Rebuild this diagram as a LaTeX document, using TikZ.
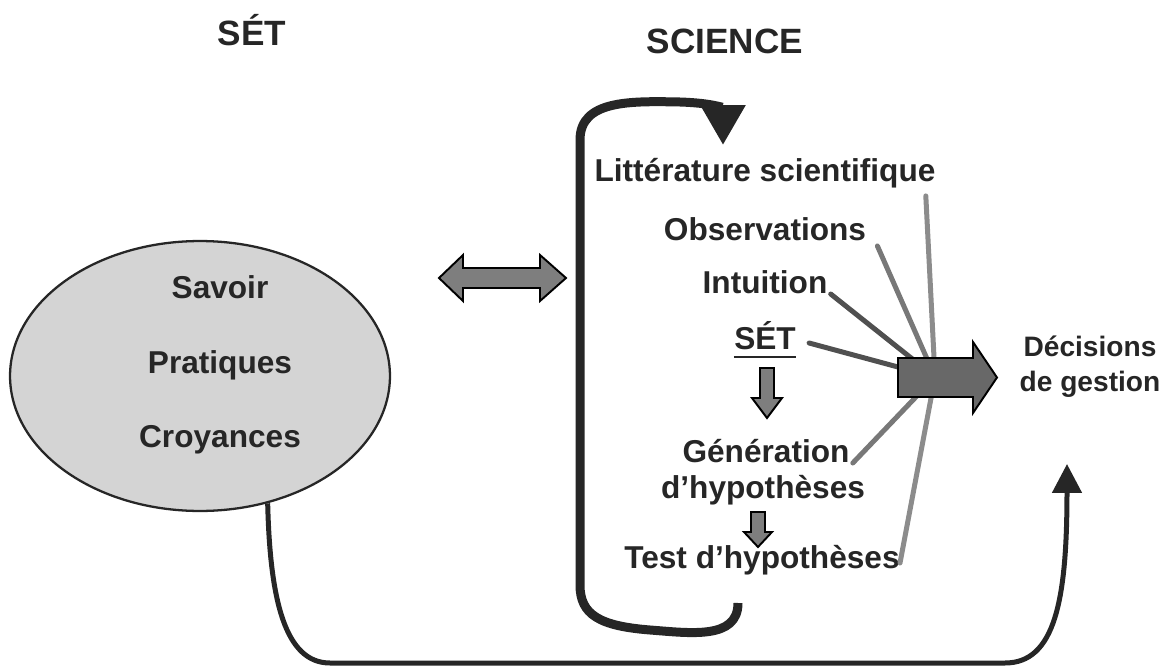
\documentclass[tikz,border=0pt]{standalone}
\usepackage{fontspec}
\setmainfont{Liberation Sans}
\usetikzlibrary{arrows.meta,shapes.geometric}

\definecolor{ink}{HTML}{262626}
\definecolor{setfill}{HTML}{D4D4D4}
\definecolor{blockgray}{HTML}{7E7E7E}
\definecolor{bigarrow}{HTML}{686868}
\definecolor{raylight}{HTML}{8C8C8C}
\definecolor{raymid}{HTML}{787878}
\definecolor{raydark}{HTML}{505050}

\newcommand{\bodyfont}{\bfseries\fontsize{18}{21}\selectfont}
\newcommand{\titlefont}{\bfseries\fontsize{20}{24}\selectfont}

\tikzset{
  blockarrow/.style={draw=black, line width=1.1pt, fill=blockgray, line join=miter},
  rayline/.style={line width=0.1cm, line cap=round},
  cycleline/.style={draw=ink, line width=0.18cm, -{Triangle[width=0.86cm,length=0.8cm]}},
  linkline/.style={draw=ink, line width=0.1cm, -{Triangle[width=0.58cm,length=0.58cm]}}
}

\begin{document}
\begin{tikzpicture}[x=0.02cm, y=-0.02cm]
  \useasboundingbox (0,0) rectangle (1174,666);

  \begin{scope}[every node/.style={anchor=base, inner sep=0pt, text=ink, font=\titlefont}]
    \node (settitle) at (252,45) {SÉT};
    \node (sciencetitle) at (725,53) {SCIENCE};
  \end{scope}

  \node[ellipse, draw=ink, line width=1.3pt, fill=setfill, inner sep=0pt,
        minimum width=7.6cm, minimum height=5.4cm] (sets) at (200,376) {};

  \begin{scope}[every node/.style={anchor=base, inner sep=0pt, text=ink, font=\bodyfont}]
    \node (savoir)    at (220,298) {Savoir};
    \node (pratiques) at (220,373) {Pratiques};
    \node (croyances) at (220,447) {Croyances};

    \node (lit)  at (765,181) {Littérature scientifique};
    \node (obs)  at (765,240) {Observations};
    \node (intu) at (765,293) {Intuition};
    \node (setsc) at (765,349) {SÉT};
    \node (gen)  at (766,462) {Génération};
    \node (hyp)  at (763,498) {d’hypothèses};
    \node (test) at (762,568) {Test d’hypothèses};
  \end{scope}

  \node[align=center, inner sep=0pt, text=ink, font=\bfseries\fontsize{16}{20}\selectfont]
    (decision) at (1090,367) {Décisions\\de gestion};

  \draw[ink, line width=1.4pt] ([yshift=-0.16cm]setsc.base west) -- ([yshift=-0.16cm]setsc.base east);

  \coordinate (hub) at (935,377);

  \draw[rayline, raylight] ([shift={(-10,8)}]lit.south east) -- (hub);
  \draw[rayline, raymid]   ([shift={(11,6)}]obs.base east) -- (hub);
  \draw[rayline, raydark]  ([shift={(3,1)}]intu.base east) -- (hub);
  \draw[rayline, raydark]  ([shift={(13,-6)}]setsc.base east) -- (hub);
  \draw[rayline, raymid]   ([shift={(3,1)}]gen.base east) -- (hub);
  \draw[rayline, raylight] ([shift={(0,-5)}]test.base east) -- (hub);

  \draw[blockarrow, fill=bigarrow] (898,358) -- (973,358) -- (973,342) -- (997,377.5)
    -- (973,413) -- (973,397) -- (898,397) -- cycle;

  \draw[blockarrow] (439,278) -- (463,255) -- (463,268) -- (540,268) -- (540,255)
    -- (566,278) -- (540,301) -- (540,288) -- (463,288) -- (463,301) -- cycle;

  \draw[blockarrow] (760,368) -- (774,368) -- (774,398) -- (782,398) -- (767,418)
    -- (752,398) -- (760,398) -- cycle;
  \draw[blockarrow] (751,512) -- (765,512) -- (765,532) -- (772,532) -- (758,547)
    -- (744,532) -- (751,532) -- cycle;

  \draw[cycleline] (738,603) .. controls (738,640) and (690,633) .. (650,630)
    .. controls (600,626) and (580,615) .. (580,585) -- (580,140)
    .. controls (580,100) and (630,101) .. (680,102)
    .. controls (712,103) and (723,108) .. (723,145);

  \draw[linkline] (sets.-62) .. controls (270,600) and (285,663) .. (330,663)
    -- (1005,663) .. controls (1055,663) and (1067,600) .. (1067,464);
\end{tikzpicture}
\end{document}
